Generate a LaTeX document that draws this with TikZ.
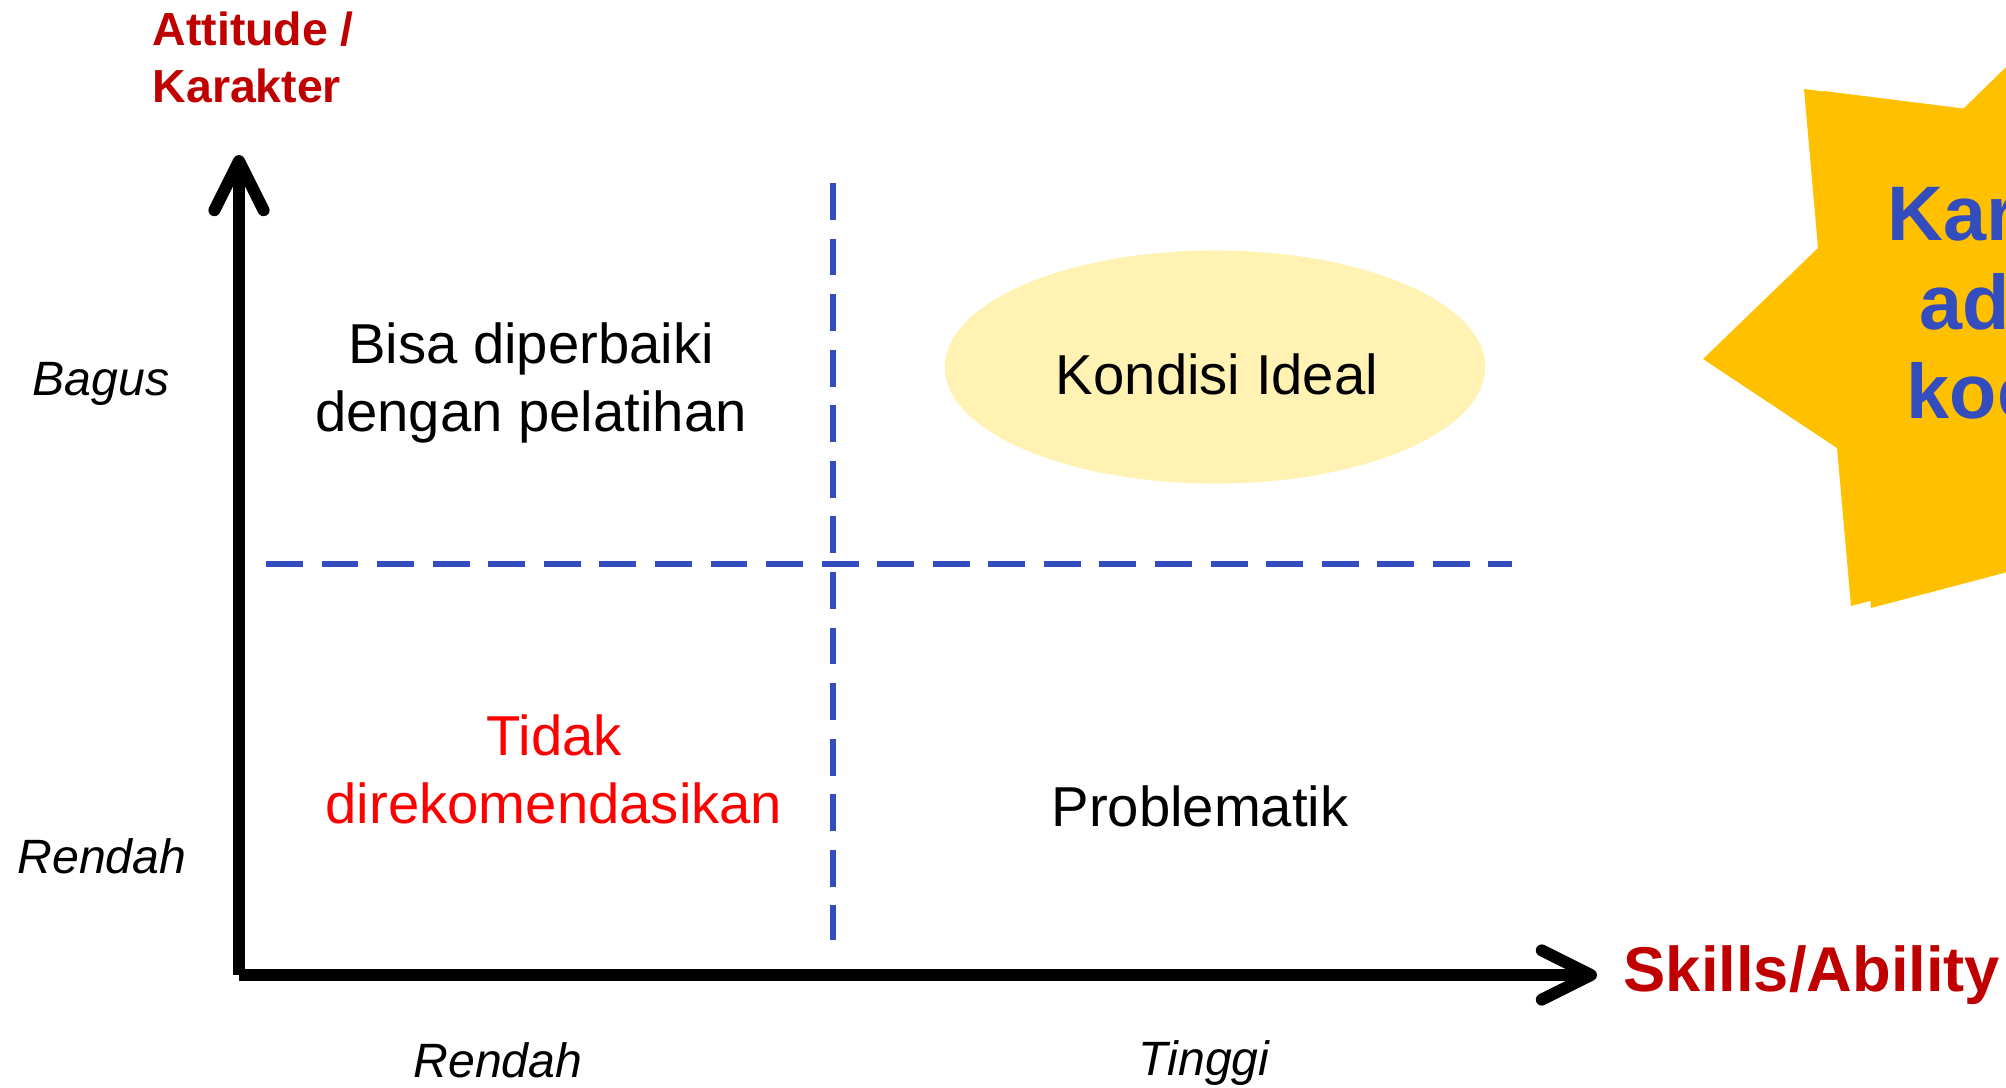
\documentclass[tikz,border=0pt]{standalone}
\usepackage{fontspec}
\setmainfont{Liberation Sans}
\usetikzlibrary{arrows.meta,shapes.geometric}

\definecolor{axisred}{RGB}{192,0,0}
\definecolor{lineblue}{RGB}{51,76,190}
\definecolor{staryellow}{RGB}{255,192,0}
\definecolor{idealyellow}{RGB}{255,242,178}

\begin{document}
\begin{tikzpicture}[x=0.01cm,y=-0.01cm]
		\tikzset{
			axisline/.style ={
				line width=3.4pt, %坐标轴线宽
				-{Straight Barb[length=14pt,width=14pt,round]} %箭头
			},
			divider/.style ={
				draw=lineblue, %虚线颜色
				line width=1.7pt,
				dash pattern=on 10.5pt off 5.3pt
			},
			lbl/.style ={
				inner sep=0pt, %文字和边框的距离
				align=center,
				font=\fontsize{16}{19.2}\selectfont
			},
			scalelbl/.style ={
				inner sep=0pt,
				anchor=base,
				font=\fontsize{13.7}{16}\selectfont\itshape
			},
			axislbl/.style ={
				inner sep=0pt,
				anchor=base west,
				text=axisred,
				align=left
			},
			startext/.style ={
				inner sep=0pt,
				anchor=base west,
				text=lineblue,
				font=\fontsize{22}{25}\selectfont\bfseries
			}
		}
		\useasboundingbox (0,0) rectangle (2006,1087);
		\clip (0,0) rectangle (2006,1087);
		% star
		\fill[staryellow] (1804,89) -- (1963,109) -- (2080,-5) -- (2120,-5) -- (2120,535) -- (1851,606) -- (1837,448) -- (1703,359) -- (1818,248) -- cycle;
		\fill[staryellow, shift={(20,2)}] (1804,89) -- (1963,109) -- (2080,-5) -- (2120,-5) -- (2120,535) -- (1851,606) -- (1837,448) -- (1703,359) -- (1818,248) -- cycle;
		\node[startext] (kar) at (1887,240) {Kar};
		\node[startext] (ad) at (1919,329) {ad};
		\node[startext] (koe) at (1906,418) {koe};
		% ellipse
		\node[ellipse, fill=idealyellow, minimum width=5.4cm, minimum height=2.33cm, inner sep=0pt] (ideal) at (1215,367) {};
		\coordinate (o) at (239,975);
		\coordinate (ytop) at (239,155);
		\coordinate (xend) at (1597,975);
		\coordinate (v1) at (833,183);
		\coordinate (v2) at (833,940);
		\coordinate (h1) at (266,564);
		\coordinate (h2) at (1512,564);
		\draw[divider] (v1)--(v2);
		\draw[divider] (h1)--(h2);
		\draw[axisline] (o)--(ytop);
		\draw[axisline] (o)--(xend);
		\node[axislbl, font=\fontsize{13.2}{16.2}\selectfont\bfseries] (att) at (152,102) {Attitude /\\Karakter};
		\node[axislbl, font=\fontsize{18}{20}\selectfont\bfseries] (skill) at (1623,991) {Skills/Ability};
		\node[lbl, anchor=base] (bisa) at (531,431) {Bisa diperbaiki\\dengan pelatihan};
		\node[lbl, anchor=base] (idealtxt) at (1217,394) {Kondisi Ideal};
		\node[lbl, anchor=base, text=red] (tidak) at (554,823) {Tidak\\direkomendasikan};
		\node[lbl, anchor=base] (prob) at (1200,826) {Problematik};
		\node[scalelbl] (bagus) at (101,395) {Bagus};
		\node[scalelbl] (rendahy) at (102,873) {Rendah};
		\node[scalelbl] (rendahx) at (498,1077) {Rendah};
		\node[scalelbl] (tinggi) at (1204,1075) {Tinggi};
\end{tikzpicture}
\end{document}
